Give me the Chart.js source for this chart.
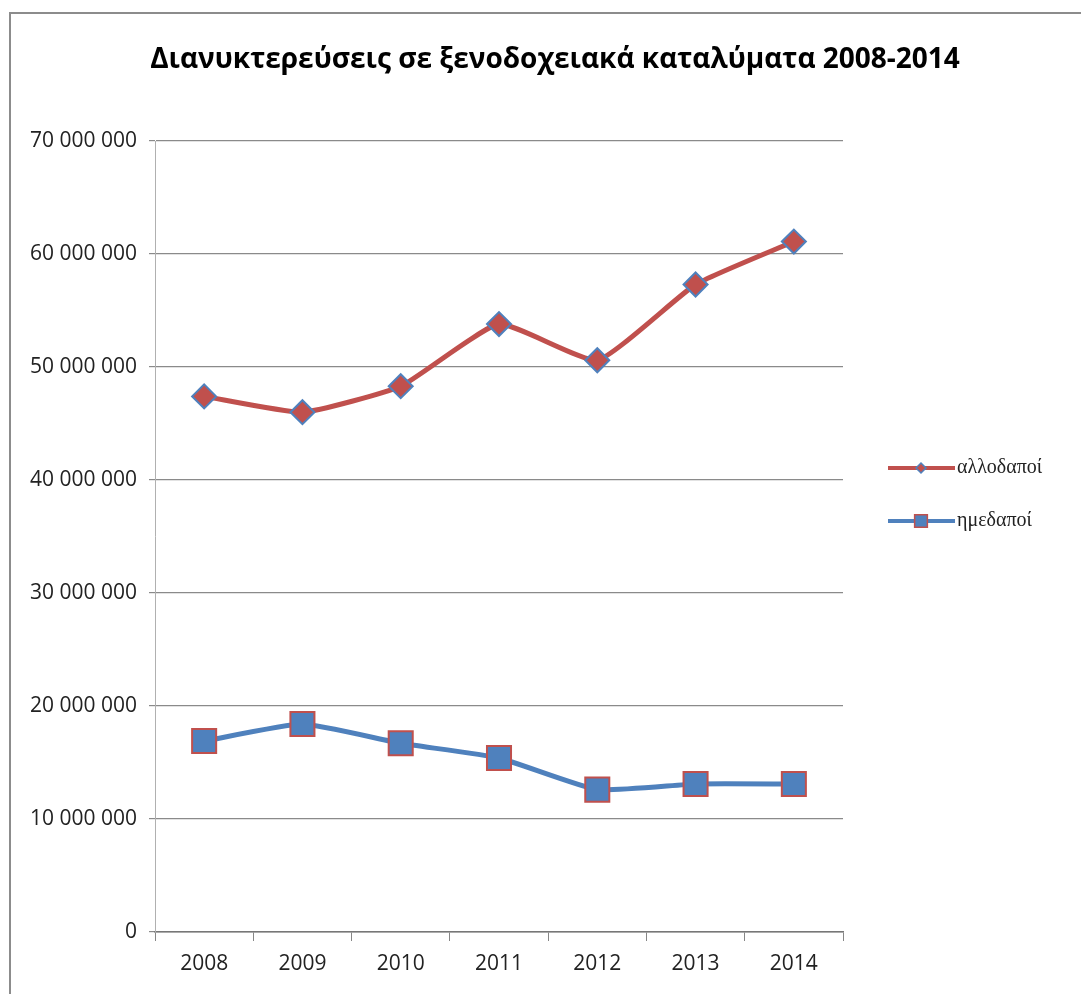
<!DOCTYPE html>
<html>
<head>
<meta charset="utf-8">
<script src="https://cdn.jsdelivr.net/npm/chart.js@4/dist/chart.umd.min.js"></script>
<style>
  html, body { margin: 0; padding: 0; background: #fff; overflow: hidden; }
  #frame {
    position: absolute; left: 9px; top: 12px; width: 1200px; height: 1100px;
    border-left: 2px solid #8c8c8c; border-top: 2px solid #8c8c8c;
  }
  #wrap { position: absolute; left: 5px; top: 0; width: 1100px; height: 994px; }
</style>
</head>
<body>
<div id="frame"></div>
<div id="wrap"><canvas id="chart"></canvas></div>
<script>
const years = ['2008', '2009', '2010', '2011', '2012', '2013', '2014'];
const foreigners = [47400000, 46000000, 48300000, 53800000, 50600000, 57300000, 61100000];
const residents = [16900000, 18400000, 16700000, 15400000, 12600000, 13100000, 13100000];
const titleText = 'Διανυκτερεύσεις σε ξενοδοχειακά καταλύματα 2008-2014';

const red = '#c0504d';
const blue = '#4f81bd';

function spaced(v) {
    return String(v).replace(/\B(?=(\d{3})+(?!\d))/g, ' ');
}

// title over the whole frame + Excel style legend (short line with marker)
const frameText = {
    id: 'frameText',
    afterDraw(chart) {
        const ctx = chart.ctx;
        ctx.save();
        ctx.fillStyle = '#000';
        ctx.font = 'bold 28px "Open Sans"';
        ctx.textAlign = 'center';
        ctx.textBaseline = 'middle';
        ctx.fillText(titleText, 550, 60);
        ctx.restore();

        const rows = [468, 521];
        chart.data.datasets.forEach((ds, i) => {
            const y = rows[i];
            ctx.save();
            ctx.strokeStyle = ds.borderColor;
            ctx.lineWidth = 4;
            ctx.beginPath();
            ctx.moveTo(883, y);
            ctx.lineTo(950, y);
            ctx.stroke();
            ctx.fillStyle = ds.pointBackgroundColor;
            ctx.strokeStyle = ds.pointBorderColor;
            ctx.lineWidth = 1.5;
            Chart.helpers.drawPoint(ctx, {
                pointStyle: ds.pointStyle,
                radius: ds.pointStyle === 'rect' ? 9 : 5,
                borderWidth: 1.5
            }, 916, y);
            ctx.fillStyle = '#222';
            ctx.font = '20px "Liberation Serif"';
            ctx.textBaseline = 'middle';
            ctx.fillText(ds.label, 952, y);
            ctx.restore();
        });
    }
};

new Chart(document.getElementById('chart'), {
    type: 'line',
    data: {
        labels: years,
        datasets: [{
            label: 'αλλοδαποί',
            data: foreigners,
            borderColor: red,
            borderWidth: 5,
            pointStyle: 'rectRot',
            pointRadius: 12,
            pointBackgroundColor: red,
            pointBorderColor: blue,
            pointBorderWidth: 2,
            tension: 0.15
        }, {
            label: 'ημεδαποί',
            data: residents,
            borderColor: blue,
            borderWidth: 5,
            pointStyle: 'rect',
            pointRadius: 17,
            pointBackgroundColor: blue,
            pointBorderColor: red,
            pointBorderWidth: 2,
            tension: 0.15
        }]
    },
    options: {
        responsive: true,
        maintainAspectRatio: false,
        animation: false,
        layout: { padding: { left: 0, right: 262, top: 141, bottom: 0 } },
        plugins: {
            legend: { display: false },
            tooltip: { enabled: false },
            title: { display: false }
        },
        scales: {
            x: {
                offset: true,
                grid: {
                    offset: true,
                    drawOnChartArea: false,
                    tickLength: 9,
                    color: '#868686'
                },
                border: { color: '#777', width: 1.5 },
                ticks: {
                    color: '#222',
                    padding: 10,
                    font: { family: '"Open Sans"', size: 21 }
                },
                afterFit(scale) { scale.height = 62; }
            },
            y: {
                min: 0,
                max: 70000000,
                ticks: {
                    stepSize: 10000000,
                    color: '#222',
                    padding: 12,
                    font: { family: '"Open Sans"', size: 21 },
                    callback: (v) => spaced(v)
                },
                grid: { color: '#8a8a8a', tickLength: 6, lineWidth: 1.2 },
                border: { color: '#b0b0b0' },
                afterFit(scale) { scale.width = 150; }
            }
        }
    },
    plugins: [frameText]
});
</script>
</body>
</html>
